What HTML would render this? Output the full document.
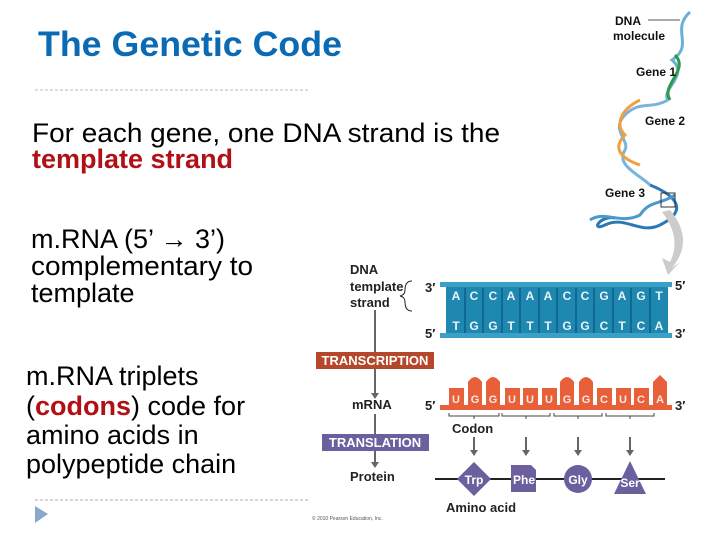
<!DOCTYPE html>
<html><head><meta charset="utf-8"><style>
body{margin:0;background:#fff}
svg{display:block}
text{font-family:"Liberation Sans",Arial,sans-serif}
</style></head><body>
<svg width="720" height="540" viewBox="0 0 720 540" xmlns="http://www.w3.org/2000/svg">
<text x="38" y="56" font-size="35" font-weight="bold" fill="#0a6ab4" textLength="304" lengthAdjust="spacingAndGlyphs">The Genetic Code</text>
<line x1="35" y1="90" x2="310" y2="90" stroke="#bbb" stroke-dasharray="3,2"/>
<g font-size="27" fill="#000">
<text x="32" y="142" textLength="468" lengthAdjust="spacingAndGlyphs">For each gene, one DNA strand is the</text>
<text x="32" y="168" font-weight="bold" fill="#b01016">template strand</text>
<text x="31" y="248">m.RNA (5’ → 3’)</text>
<text x="31" y="275" textLength="222" lengthAdjust="spacingAndGlyphs">complementary to</text>
<text x="31" y="302">template</text>
<text x="26" y="385">m.RNA triplets</text>
<text x="26" y="415">(<tspan font-weight="bold" fill="#b01016">codons</tspan>) code for</text>
<text x="26" y="444">amino acids in</text>
<text x="26" y="473">polypeptide chain</text>
</g>
<line x1="35" y1="500" x2="310" y2="500" stroke="#aab" stroke-dasharray="3,2"/>
<polygon points="35,506 48,514 35,523" fill="#8aa8cc"/>

<!-- DNA helix on right (simplified) -->
<g fill="none" stroke-width="3">
<path d="M690,12 C670,30 695,45 672,60 C690,75 660,90 668,100" stroke="#6ab0d8"/>
<path d="M675,55 C690,70 660,85 670,100" stroke="#2e9a4a"/>
<path d="M668,100 C650,110 640,100 625,115 C610,130 630,140 625,150 C615,165 640,175 650,185" stroke="#7ab4dc"/>
<path d="M640,100 C620,110 615,125 625,135 C610,150 625,160 640,165" stroke="#f0a040"/>
<path d="M650,185 C675,195 690,210 660,225 C640,235 625,215 605,225 C590,232 600,215 615,218" stroke="#2a78b8"/>
<path d="M675,195 C660,205 650,200 640,215 C620,225 605,210 590,220" stroke="#4a98cc"/>
</g>
<line x1="648" y1="20" x2="680" y2="20" stroke="#555" stroke-width="1"/>
<g font-size="12" font-weight="bold" fill="#111">
<text x="615" y="25">DNA</text><text x="613" y="40">molecule</text>
<text x="636" y="76">Gene 1</text><text x="645" y="125">Gene 2</text><text x="605" y="197">Gene 3</text>
</g>
<rect x="661" y="193" width="14" height="14" fill="none" stroke="#333"/>
<path d="M670,210 Q695,240 672,268 L680,262 L668,275 L662,258 L670,262 Q682,238 662,212 Z" fill="#ccc"/>

<!-- left labels -->
<g font-size="13" font-weight="bold" fill="#222">
<text x="350" y="274">DNA</text><text x="350" y="291">template</text><text x="350" y="307">strand</text>
<text x="352" y="409">mRNA</text><text x="350" y="481">Protein</text>
</g>
<path d="M412,281 Q405,281 405,290 Q405,295 400,296 Q405,297 405,302 Q405,311 412,311" fill="none" stroke="#222"/>
<line x1="375" y1="310" x2="375" y2="352" stroke="#666" stroke-width="2"/>
<line x1="375" y1="368" x2="375" y2="393" stroke="#666" stroke-width="2"/>
<polygon points="371,393 379,393 375,399" fill="#666"/>
<line x1="375" y1="414" x2="375" y2="434" stroke="#666" stroke-width="2"/>
<line x1="375" y1="450" x2="375" y2="462" stroke="#666" stroke-width="2"/>
<polygon points="371,462 379,462 375,468" fill="#666"/>
<rect x="316" y="352" width="118" height="17" fill="#b5482a"/>
<text x="375" y="365" font-size="13" font-weight="bold" fill="#fff" text-anchor="middle">TRANSCRIPTION</text>
<rect x="322" y="434" width="107" height="17" fill="#6b5f9e"/>
<text x="375" y="447" font-size="13" font-weight="bold" fill="#fff" text-anchor="middle">TRANSLATION</text>

<!-- DNA ladder -->
<rect x="446" y="283" width="222" height="55" fill="#1f88b0"/>
<rect x="440" y="282" width="232" height="5" fill="#3aa0c8"/>
<rect x="440" y="333" width="232" height="5" fill="#3aa0c8"/>
<g font-size="13" font-weight="bold" fill="#222">
<text x="425" y="292">3′</text><text x="675" y="290">5′</text>
<text x="425" y="338">5′</text><text x="675" y="338">3′</text>
<text x="425" y="410">5′</text><text x="675" y="410">3′</text>
</g>
<g stroke="#0d5f85" stroke-width="1.5">
<line x1="465" y1="288" x2="465" y2="333"/><line x1="483" y1="288" x2="483" y2="333"/><line x1="502" y1="288" x2="502" y2="333"/><line x1="520" y1="288" x2="520" y2="333"/><line x1="539" y1="288" x2="539" y2="333"/><line x1="557" y1="288" x2="557" y2="333"/><line x1="576" y1="288" x2="576" y2="333"/><line x1="594" y1="288" x2="594" y2="333"/><line x1="613" y1="288" x2="613" y2="333"/><line x1="631" y1="288" x2="631" y2="333"/><line x1="650" y1="288" x2="650" y2="333"/>
</g>
<g fill="#fff" font-size="12" font-weight="bold" text-anchor="middle" opacity="0.9">
<text x="456" y="300">A</text><text x="474" y="300">C</text><text x="493" y="300">C</text><text x="511" y="300">A</text><text x="530" y="300">A</text><text x="548" y="300">A</text><text x="567" y="300">C</text><text x="585" y="300">C</text><text x="604" y="300">G</text><text x="622" y="300">A</text><text x="641" y="300">G</text><text x="659" y="300">T</text>
<text x="456" y="330">T</text><text x="474" y="330">G</text><text x="493" y="330">G</text><text x="511" y="330">T</text><text x="530" y="330">T</text><text x="548" y="330">T</text><text x="567" y="330">G</text><text x="585" y="330">G</text><text x="604" y="330">C</text><text x="622" y="330">T</text><text x="641" y="330">C</text><text x="659" y="330">A</text>
</g>

<!-- mRNA -->
<g fill="#e8603a">
<rect x="440" y="405" width="232" height="5"/>
<rect x="449" y="388" width="15" height="18"/>
<path d="M468,406 V382 Q475,372 482,382 V406 Z"/>
<path d="M486,406 V382 Q493,372 500,382 V406 Z"/>
<rect x="505" y="388" width="15" height="18"/><rect x="523" y="388" width="15" height="18"/><rect x="542" y="388" width="15" height="18"/>
<path d="M560,406 V382 Q567,372 574,382 V406 Z"/>
<path d="M579,406 V382 Q586,372 593,382 V406 Z"/>
<rect x="597" y="388" width="15" height="18"/><rect x="616" y="388" width="15" height="18"/><rect x="634" y="388" width="15" height="18"/>
<path d="M653,406 V382 L660,375 L667,382 V406 Z"/>
</g>
<g fill="#fff" font-size="11" font-weight="bold" text-anchor="middle" opacity="0.85">
<text x="456" y="403">U</text><text x="475" y="403">G</text><text x="493" y="403">G</text><text x="512" y="403">U</text><text x="530" y="403">U</text><text x="549" y="403">U</text><text x="567" y="403">G</text><text x="586" y="403">G</text><text x="604" y="403">C</text><text x="623" y="403">U</text><text x="641" y="403">C</text><text x="660" y="403">A</text>
</g>
<g fill="none" stroke="#444" stroke-width="1">
<path d="M449,413 v3 h25 v3 v-3 h25 v-3"/><path d="M502,413 v3 h24 v3 v-3 h24 v-3"/><path d="M554,413 v3 h24 v3 v-3 h24 v-3"/><path d="M606,413 v3 h24 v3 v-3 h24 v-3"/>
</g>
<text x="452" y="433" font-size="13" font-weight="bold" fill="#222">Codon</text>
<g stroke="#666" stroke-width="2"><line x1="474" y1="437" x2="474" y2="450"/><line x1="526" y1="437" x2="526" y2="450"/><line x1="578" y1="437" x2="578" y2="450"/><line x1="630" y1="437" x2="630" y2="450"/></g>
<g fill="#666"><polygon points="470,450 478,450 474,456"/><polygon points="522,450 530,450 526,456"/><polygon points="574,450 582,450 578,456"/><polygon points="626,450 634,450 630,456"/></g>
<line x1="435" y1="479" x2="665" y2="479" stroke="#222" stroke-width="2"/>
<g fill="#6b5f9e">
<polygon points="474,462 491,479 474,496 457,479"/>
<path d="M511,465 h20 l5,5 v22 h-25 z"/>
<circle cx="578" cy="479" r="14"/>
<polygon points="630,461 646,494 614,494"/>
</g>
<g fill="#fff" font-size="12" font-weight="bold" text-anchor="middle">
<text x="474" y="484">Trp</text><text x="524" y="484">Phe</text><text x="578" y="484">Gly</text><text x="630" y="487">Ser</text>
</g>
<text x="446" y="512" font-size="13" font-weight="bold" fill="#222">Amino acid</text>
<text x="312" y="520" font-size="5" fill="#555">© 2010 Pearson Education, Inc.</text>
</svg>
</body></html>
